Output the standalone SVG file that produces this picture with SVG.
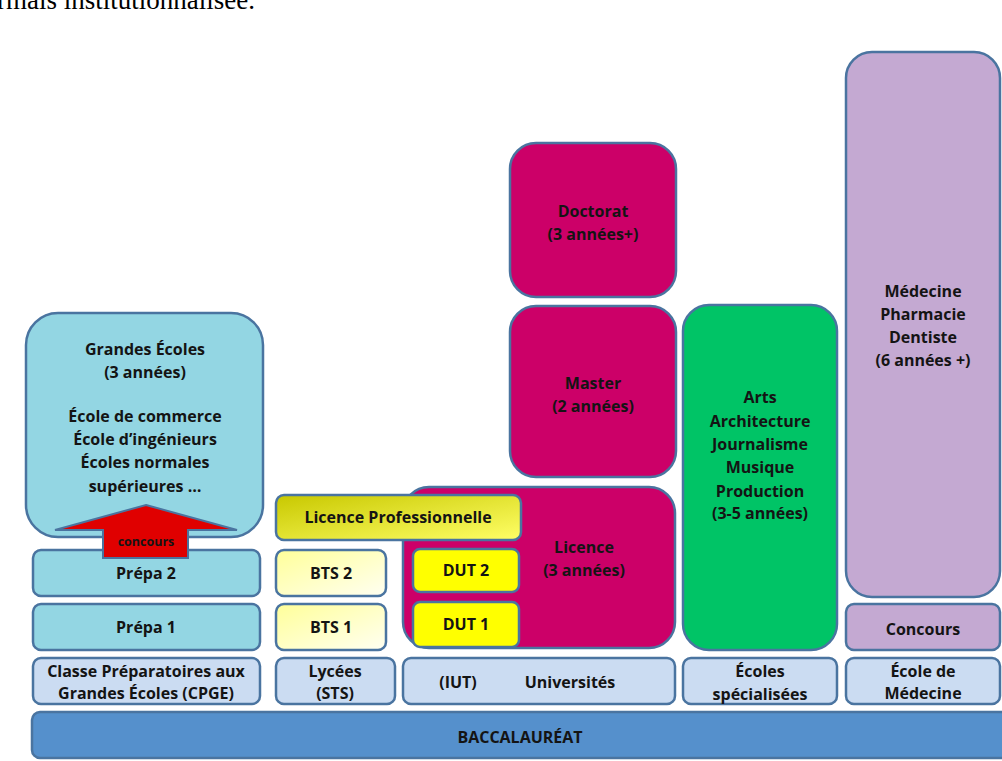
<svg xmlns="http://www.w3.org/2000/svg" width="1002" height="761" viewBox="0 0 1002 761">
<defs>
<linearGradient id="gBts" x1="0" y1="0" x2="1" y2="1"><stop offset="0" stop-color="#ffff99"/><stop offset="1" stop-color="#fffff2"/></linearGradient>
<linearGradient id="gLp" x1="0" y1="0" x2="1" y2="1"><stop offset="0" stop-color="#c8c800"/><stop offset="1" stop-color="#ffff66"/></linearGradient>
</defs>
<style>
rect{stroke:#4a74a0;stroke-width:2.5}
.t{font-family:"Open Sans",Lato,sans-serif;font-weight:bold;font-size:16px;fill:#141414;text-anchor:middle}
.cy{fill:#93d6e3}
.inst{fill:#cbdcf2}
.mg{fill:#cc0068}
.yl{fill:#ffff00}
.top{font-family:"Liberation Serif",serif;font-size:27px;fill:#000}
</style>
<text class="top" x="-3" y="9">rmais institutionnalisée.</text>

<g id="bac"><rect x="32" y="712" width="985" height="46" rx="8" fill="#5590cc"/><text class="t" x="520" y="743">BACCALAURÉAT</text></g>

<g id="cpge"><rect class="inst" x="33" y="658" width="227" height="46" rx="8"/><text class="t" x="146" y="677">Classe Préparatoires aux</text><text class="t" x="146" y="699">Grandes Écoles (CPGE)</text></g>
<g id="prepa1"><rect class="cy" x="33" y="604" width="227" height="46" rx="8"/><text class="t" x="146" y="633">Prépa 1</text></g>
<g id="prepa2"><rect class="cy" x="33" y="550" width="227" height="46" rx="8"/><text class="t" x="146" y="579">Prépa 2</text></g>
<g id="grandes-ecoles"><rect class="cy" x="26" y="313" width="237" height="224" rx="32"/>
<text class="t" x="145" y="355">Grandes Écoles</text><text class="t" x="145" y="378">(3 années)</text>
<text class="t" x="145" y="422">École de commerce</text><text class="t" x="145" y="445">École d’ingénieurs</text><text class="t" x="145" y="468">Écoles normales</text><text class="t" x="145" y="492">supérieures …</text></g>

<g id="lycees"><rect class="inst" x="276" y="658" width="119" height="46" rx="8"/><text class="t" x="335" y="677">Lycées</text><text class="t" x="335" y="699">(STS)</text></g>
<g id="bts1"><rect x="276" y="604" width="110" height="46" rx="8" fill="url(#gBts)"/><text class="t" x="331" y="633">BTS 1</text></g>
<g id="bts2"><rect x="276" y="550" width="110" height="46" rx="8" fill="url(#gBts)"/><text class="t" x="331" y="579">BTS 2</text></g>

<g id="universites"><rect class="inst" x="403" y="658" width="272" height="46" rx="8"/><text class="t" x="458" y="688">(IUT)</text><text class="t" x="570" y="688">Universités</text></g>
<g id="licence"><rect class="mg" x="403" y="487" width="272" height="161" rx="26"/><text class="t" x="584" y="553">Licence</text><text class="t" x="584" y="576">(3 années)</text></g>
<g id="dut1"><rect class="yl" x="413" y="602" width="106" height="45" rx="7"/><text class="t" x="466" y="630">DUT 1</text></g>
<g id="dut2"><rect class="yl" x="413" y="549" width="106" height="43" rx="7"/><text class="t" x="466" y="576">DUT 2</text></g>
<g id="licence-pro"><rect x="276" y="495" width="245" height="45" rx="8" fill="url(#gLp)"/><text class="t" x="398" y="523">Licence Professionnelle</text></g>
<g id="master"><rect class="mg" x="510" y="306" width="166" height="171" rx="26"/><text class="t" x="593" y="389">Master</text><text class="t" x="593" y="412">(2 années)</text></g>
<g id="doctorat"><rect class="mg" x="510" y="143" width="166" height="154" rx="26"/><text class="t" x="593" y="217">Doctorat</text><text class="t" x="593" y="240">(3 années+)</text></g>

<g id="ecoles-specialisees"><rect class="inst" x="683" y="658" width="154" height="46" rx="8"/><text class="t" x="760" y="677">Écoles</text><text class="t" x="760" y="700">spécialisées</text></g>
<g id="arts"><rect x="683" y="305" width="154" height="345" rx="26" fill="#00c466"/>
<text class="t" x="760" y="403">Arts</text><text class="t" x="760" y="427">Architecture</text><text class="t" x="760" y="450">Journalisme</text><text class="t" x="760" y="473">Musique</text><text class="t" x="760" y="497">Production</text><text class="t" x="760" y="519">(3-5 années)</text></g>

<g id="ecole-medecine"><rect class="inst" x="846" y="658" width="154" height="46" rx="8"/><text class="t" x="923" y="677">École de</text><text class="t" x="923" y="699">Médecine</text></g>
<g id="concours-med"><rect x="846" y="604" width="154" height="46" rx="8" fill="#c4a9d2"/><text class="t" x="923" y="635">Concours</text></g>
<g id="medecine"><rect x="846" y="52" width="154" height="545" rx="26" fill="#c4a9d2"/>
<text class="t" x="923" y="297">Médecine</text><text class="t" x="923" y="320">Pharmacie</text><text class="t" x="923" y="343">Dentiste</text><text class="t" x="923" y="366">(6 années +)</text></g>

<g id="connectors">
<path d="M146,505 L237,530 L188,530 L188,558 L103,558 L103,530 L55,530 Z" fill="#e00000" stroke="#4a74a0" stroke-width="2"/>
<text x="146" y="546" style="font-family:'Open Sans',sans-serif;font-weight:bold;font-size:12.5px;fill:#141414;text-anchor:middle">concours</text>
</g>
</svg>
